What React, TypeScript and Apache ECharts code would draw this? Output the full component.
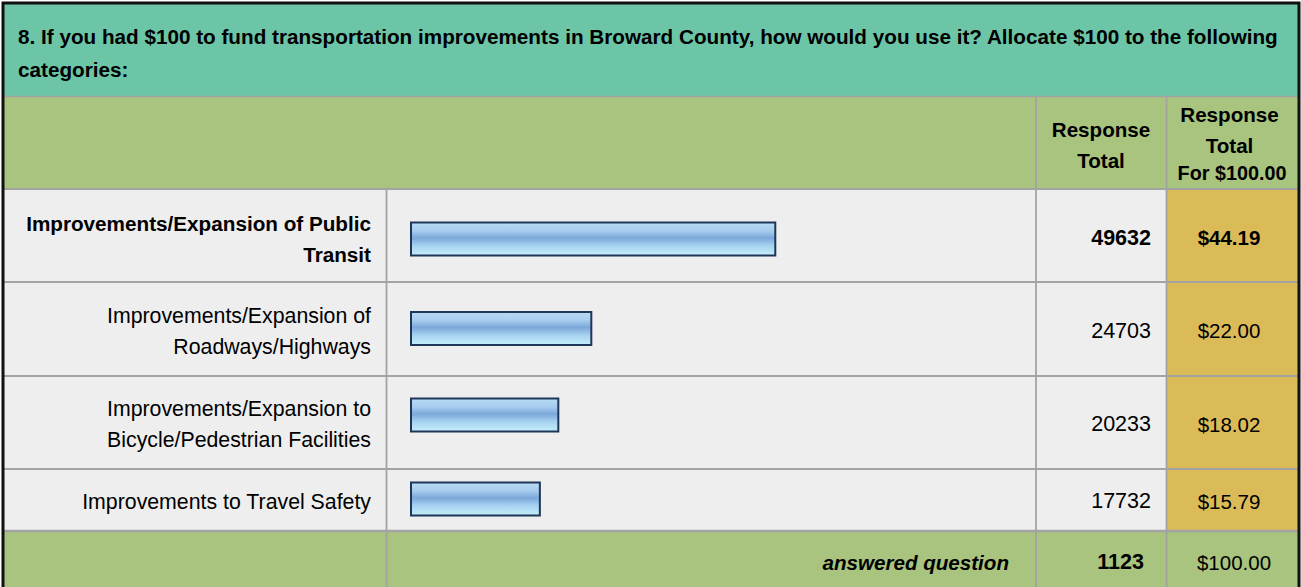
import React, { useEffect, useRef } from "react";
import * as echarts from "echarts";

// ---- data ----
const questionTitle =
  "8. If you had $100 to fund transportation improvements in Broward County, how would you use it? Allocate $100 to the following\ncategories:";
const categories = [
  "Improvements/Expansion of Public\nTransit",
  "Improvements/Expansion of\nRoadways/Highways",
  "Improvements/Expansion to\nBicycle/Pedestrian Facilities",
  "Improvements to Travel Safety",
];
const responseTotals = [49632, 24703, 20233, 17732];
const dollarShares = [44.19, 22.0, 18.02, 15.79];
const answeredCount = 1123;
const dollarTotal = 100;
const answeredLabel = "answered question";

// ---- layout ----
const FONT = '"Liberation Sans", Arial, Helvetica, sans-serif';
const rowTops = [189, 282, 376, 469];
const rowBottoms = [282, 376, 469, 531];
const barTops = [221.5, 311, 397.5, 481.5];
const labelCenters = [238.5, 331, 424, 501.5];
const BAR_H = 35;
const BAR_LEFT = 410;
const BAR_W = 369;
const AXIS_MAX = 50000;

const TEAL = "#6CC5A7";
const GREEN = "#A9C47E";
const GOLD = "#DBBB58";
const ROWBG = "#EEEEEE";
const LINE = "#A3A3A3";

export default function App() {
  const ref = useRef<HTMLDivElement>(null);
  useEffect(() => {
    if (!ref.current) return;
    const chart = echarts.init(ref.current, undefined, { renderer: "svg" });

    const grids: any[] = [];
    const xAxes: any[] = [];
    const yAxes: any[] = [];
    const series: any[] = [];
    categories.forEach((c, i) => {
      grids.push({ left: BAR_LEFT, width: BAR_W, top: barTops[i], height: BAR_H, containLabel: false });
      xAxes.push({ type: "value", gridIndex: i, min: 0, max: AXIS_MAX, show: false });
      yAxes.push({ type: "category", gridIndex: i, data: [c], show: false });
      series.push({
        type: "bar",
        xAxisIndex: i,
        yAxisIndex: i,
        data: [responseTotals[i]],
        barWidth: BAR_H,
        z: 5,
        itemStyle: {
          color: new echarts.graphic.LinearGradient(0, 0, 0, 1, [
            { offset: 0, color: "#B9DBF4" },
            { offset: 0.25, color: "#A7CDEE" },
            { offset: 0.47, color: "#7CA7DA" },
            { offset: 0.7, color: "#A6D2F0" },
            { offset: 1, color: "#C6EEF9" },
          ]),
          borderColor: "#1E3658",
          borderWidth: 2,
        },
      });
    });

    const g: any[] = [];
    // backgrounds
    g.push({ type: "rect", shape: { x: 3, y: 3, width: 1295, height: 94 }, style: { fill: TEAL } });
    g.push({ type: "rect", shape: { x: 3, y: 97, width: 1295, height: 92 }, style: { fill: GREEN } });
    g.push({ type: "rect", shape: { x: 3, y: 189, width: 1295, height: 342 }, style: { fill: ROWBG } });
    g.push({ type: "rect", shape: { x: 1166, y: 189, width: 132, height: 342 }, style: { fill: GOLD } });
    g.push({ type: "rect", shape: { x: 3, y: 531, width: 1295, height: 80 }, style: { fill: GREEN } });

    // horizontal lines
    g.push({ type: "line", shape: { x1: 3, y1: 96.5, x2: 1298, y2: 96.5 }, style: { stroke: LINE, lineWidth: 1.5 } });
    rowTops.forEach((y) => {
      g.push({ type: "line", shape: { x1: 3, y1: y, x2: 1298, y2: y }, style: { stroke: LINE, lineWidth: 2 } });
    });
    g.push({ type: "line", shape: { x1: 3, y1: 531, x2: 1298, y2: 531 }, style: { stroke: LINE, lineWidth: 2.5 } });
    // vertical lines
    g.push({ type: "line", shape: { x1: 386.5, y1: 189, x2: 386.5, y2: 600 }, style: { stroke: LINE, lineWidth: 1.8 } });
    g.push({ type: "line", shape: { x1: 1036, y1: 97, x2: 1036, y2: 600 }, style: { stroke: LINE, lineWidth: 1.8 } });
    g.push({ type: "line", shape: { x1: 1166.5, y1: 97, x2: 1166.5, y2: 600 }, style: { stroke: LINE, lineWidth: 1.8 } });

    // frame
    g.push({
      type: "rect",
      shape: { x: 3, y: 3, width: 1296, height: 640 },
      style: { fill: "none", stroke: "#111111", lineWidth: 3 },
    });

    // title
    g.push({
      type: "text",
      x: 18,
      y: 52.5,
      style: {
        text: questionTitle,
        font: `bold 20.7px ${FONT}`,
        fill: "#000",
        textAlign: "left",
        textVerticalAlign: "middle",
        lineHeight: 33,
      },
    });

    // header
    g.push({
      type: "text",
      x: 1101,
      y: 144.5,
      style: { text: "Response\nTotal", font: `bold 20.6px ${FONT}`, fill: "#000", textAlign: "center", textVerticalAlign: "middle", lineHeight: 31 },
    });
    g.push({
      type: "text",
      x: 1229.5,
      y: 129.5,
      style: { text: "Response\nTotal", font: `bold 20.6px ${FONT}`, fill: "#000", textAlign: "center", textVerticalAlign: "middle", lineHeight: 31 },
    });
    g.push({
      type: "text",
      x: 1232,
      y: 173,
      style: { text: "For $100.00", font: `bold 19.8px ${FONT}`, fill: "#000", textAlign: "center", textVerticalAlign: "middle" },
    });

    // rows
    categories.forEach((c, i) => {
      const bold = i === 0;
      g.push({
        type: "text",
        x: 371,
        y: labelCenters[i],
        style: {
          text: c,
          font: `${bold ? "bold 20.7px" : "21.3px"} ${FONT}`,
          fill: "#000",
          textAlign: "right",
          textVerticalAlign: "middle",
          lineHeight: 31,
        },
      });
      const cy = (rowTops[i] + rowBottoms[i]) / 2 + (i === 0 ? 2 : i === 3 ? 1 : 1.5);
      g.push({
        type: "text",
        x: 1151,
        y: cy,
        style: {
          text: String(responseTotals[i]),
          font: `${bold ? "bold " : ""}21.5px ${FONT}`,
          fill: "#000",
          textAlign: "right",
          textVerticalAlign: "middle",
        },
      });
      g.push({
        type: "text",
        x: 1229,
        y: cy,
        style: {
          text: "$" + dollarShares[i].toFixed(2),
          font: `${bold ? "bold " : ""}20.5px ${FONT}`,
          fill: "#000",
          textAlign: "center",
          textVerticalAlign: "middle",
        },
      });
    });

    // footer
    g.push({
      type: "text",
      x: 1009,
      y: 562,
      style: { text: answeredLabel, font: `italic bold 20.6px ${FONT}`, fill: "#000", textAlign: "right", textVerticalAlign: "middle" },
    });
    g.push({
      type: "text",
      x: 1144,
      y: 562,
      style: { text: String(answeredCount), font: `bold 21.5px ${FONT}`, fill: "#000", textAlign: "right", textVerticalAlign: "middle" },
    });
    g.push({
      type: "text",
      x: 1234,
      y: 562,
      style: { text: "$" + dollarTotal.toFixed(2), font: `20.5px ${FONT}`, fill: "#000", textAlign: "center", textVerticalAlign: "middle" },
    });

    chart.setOption({
      animation: false,
      backgroundColor: "#ffffff",
      grid: grids,
      xAxis: xAxes,
      yAxis: yAxes,
      series,
      graphic: { elements: g },
    });
    return () => chart.dispose();
  }, []);

  return (
    <div
      ref={ref}
      style={{ position: "fixed", left: 0, top: 0, width: 1301, height: 587 }}
    />
  );
}
